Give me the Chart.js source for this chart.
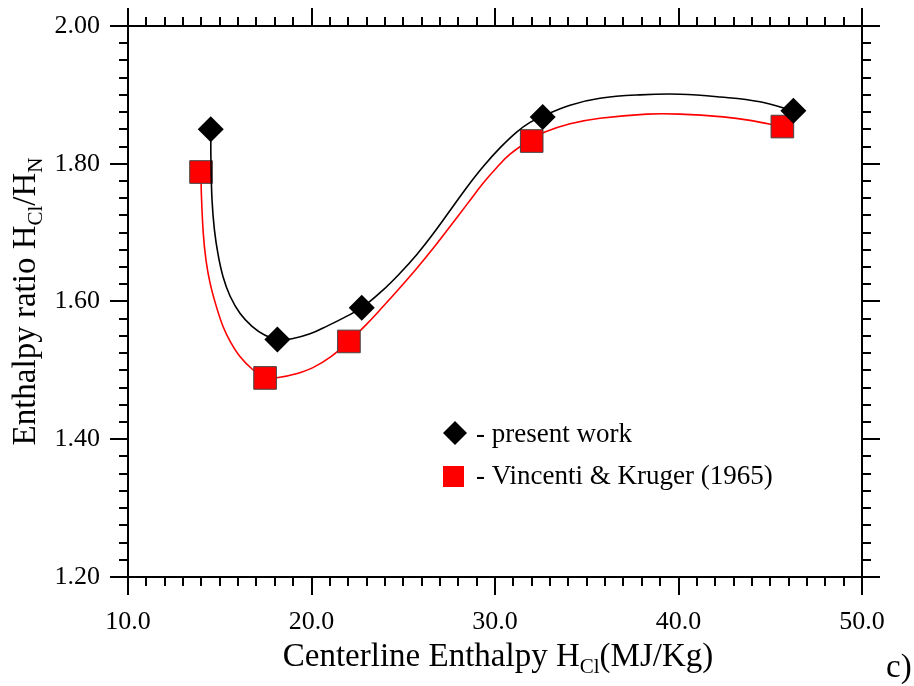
<!DOCTYPE html>
<html>
<head>
<meta charset="utf-8">
<script src="https://cdn.jsdelivr.net/npm/chart.js@4.4.1/dist/chart.umd.min.js"></script>
<style>
    body { margin: 0; background: #fff; }
    #wrap { width: 914px; height: 686px; }
</style>
</head>
<body>
<div id="wrap"><canvas id="enthalpyChart" width="914" height="686"></canvas></div>
<script>
// measured points
var presentX = [14.51, 18.14, 22.74, 32.60, 46.26];
var presentY = [1.850, 1.545, 1.591, 1.868, 1.877];
var vkX = [13.98, 17.47, 22.04, 32.00, 45.66];
var vkY = [1.788, 1.489, 1.542, 1.833, 1.854];

// fitted curves
var presentCurveX = [14.51, 14.52, 14.58, 14.71, 14.91, 15.18, 15.56, 16.10, 16.76, 17.47, 18.14, 18.94,
    19.92, 20.90, 21.80, 22.74, 23.91, 24.82, 25.73, 26.62, 27.55, 28.47, 29.36, 30.27, 31.18, 31.91,
    32.60, 34.09, 35.72, 37.90, 40.08, 42.26, 44.44, 46.26];
var presentCurveY = [1.850, 1.805, 1.747, 1.704, 1.668, 1.636, 1.608, 1.583, 1.564, 1.551, 1.545, 1.546,
    1.553, 1.565, 1.577, 1.591, 1.617, 1.641, 1.668, 1.698, 1.732, 1.766, 1.796, 1.823, 1.846, 1.860,
    1.869, 1.885, 1.895, 1.900, 1.901, 1.897, 1.890, 1.877];
var vkCurveX = [13.98, 14.00, 14.10, 14.25, 14.47, 14.80, 15.19, 15.61, 16.10, 16.76, 17.47, 18.28,
    19.16, 20.08, 21.06, 22.04, 22.97, 23.91, 24.82, 25.73, 26.62, 27.55, 28.47, 29.36, 30.11, 30.82,
    32.00, 32.72, 34.09, 35.72, 38.27, 40.08, 42.44, 43.90, 45.66];
var vkCurveY = [1.788, 1.755, 1.700, 1.660, 1.627, 1.594, 1.563, 1.540, 1.520, 1.502, 1.489, 1.490,
    1.495, 1.504, 1.520, 1.542, 1.566, 1.593, 1.620, 1.648, 1.677, 1.709, 1.741, 1.772, 1.795, 1.814,
    1.836, 1.846, 1.858, 1.866, 1.872, 1.872, 1.868, 1.863, 1.854];

// axes
var xRange = [10, 50];
var yRange = [1.20, 2.00];
var xStep = 10, yStep = 0.2;
var legendLabels = ['- present work', '- Vincenti & Kruger (1965)'];

var FONT = "'Liberation Serif', 'Times New Roman', serif";

function pts(xs, ys) {
    return xs.map(function (x, i) { return {x: x, y: ys[i]}; });
}

// text with subscripts: parts = [[text, isSub], ...]
function drawParts(ctx, parts, size) {
    var subSize = Math.round(size * 0.64);
    var w = 0;
    parts.forEach(function (p) {
        ctx.font = (p[1] ? subSize : size) + 'px ' + FONT;
        w += ctx.measureText(p[0]).width;
    });
    var x = -w / 2;
    parts.forEach(function (p) {
        ctx.font = (p[1] ? subSize : size) + 'px ' + FONT;
        ctx.fillText(p[0], x, p[1] ? 7 : 0);
        x += ctx.measureText(p[0]).width;
    });
}

var framePlugin = {
    id: 'frame',
    afterDraw: function (chart) {
        var ctx = chart.ctx, a = chart.chartArea;
        var xs = chart.scales.x, ys = chart.scales.y;
        ctx.save();
        ctx.strokeStyle = '#000';
        ctx.lineWidth = 2;
        ctx.strokeRect(a.left, a.top, a.right - a.left, a.bottom - a.top);

        ctx.beginPath();
        // x ticks, every 1.0, major every 10
        for (var i = 0; i <= (xRange[1] - xRange[0]); i++) {
            var px = Math.round(xs.getPixelForValue(xRange[0] + i));
            var len = (i % 10 === 0) ? 18 : 9;
            ctx.moveTo(px, a.bottom); ctx.lineTo(px, a.bottom + len);
            ctx.moveTo(px, a.top); ctx.lineTo(px, a.top - len);
        }
        // y ticks, every 0.025, major every 0.2
        for (var j = 0; j <= 32; j++) {
            var py = Math.round(ys.getPixelForValue(yRange[0] + j * 0.025));
            var l2 = (j % 8 === 0) ? 18 : 9;
            ctx.moveTo(a.left, py); ctx.lineTo(a.left - l2, py);
            ctx.moveTo(a.right, py); ctx.lineTo(a.right + l2, py);
        }
        ctx.stroke();

        ctx.fillStyle = '#000';
        ctx.textBaseline = 'alphabetic';
        ctx.textAlign = 'left';

        // x title
        ctx.save();
        ctx.translate((a.left + a.right) / 2 + 3, 666);
        drawParts(ctx, [['Centerline Enthalpy H', false], ['Cl', true], ['(MJ/Kg)', false]], 33);
        ctx.restore();

        // y title
        ctx.save();
        ctx.translate(35, (a.top + a.bottom) / 2);
        ctx.rotate(-Math.PI / 2);
        drawParts(ctx, [['Enthalpy ratio H', false], ['Cl', true], ['/H', false], ['N', true]], 33);
        ctx.restore();

        // panel letter
        ctx.font = '33px ' + FONT;
        ctx.fillText('c)', 886, 677);

        // legend
        ctx.font = '27px ' + FONT;
        ctx.beginPath();
        ctx.moveTo(455, 421); ctx.lineTo(467, 433); ctx.lineTo(455, 445); ctx.lineTo(443, 433);
        ctx.closePath();
        ctx.fill();
        ctx.fillText(legendLabels[0], 476, 442);
        ctx.fillStyle = '#ff0000';
        ctx.fillRect(443, 466, 21, 21);
        ctx.fillStyle = '#000';
        ctx.fillText(legendLabels[1], 476, 484);
        ctx.restore();
    }
};

var ctx = document.getElementById('enthalpyChart').getContext('2d');
new Chart(ctx, {
    type: 'scatter',
    data: {
        datasets: [
            {
                label: 'present work',
                data: pts(presentX, presentY),
                pointStyle: 'rectRot',
                pointRadius: 13,
                backgroundColor: '#000',
                borderColor: '#000',
                borderWidth: 0,
                order: 0
            },
            {
                label: 'present work fit',
                data: pts(presentCurveX, presentCurveY),
                showLine: true,
                pointRadius: 0,
                borderColor: '#000',
                borderWidth: 1.6,
                tension: 0.4,
                order: 1
            },
            {
                label: 'Vincenti & Kruger (1965)',
                data: pts(vkX, vkY),
                pointStyle: 'rect',
                pointRadius: 16,
                backgroundColor: '#ff0000',
                borderColor: '#444',
                borderWidth: 1,
                order: 2
            },
            {
                label: 'Vincenti & Kruger fit',
                data: pts(vkCurveX, vkCurveY),
                showLine: true,
                pointRadius: 0,
                borderColor: '#ff0000',
                borderWidth: 1.6,
                tension: 0.4,
                order: 3
            }
        ]
    },
    options: {
        responsive: false,
        animation: false,
        devicePixelRatio: 1,
        layout: {padding: {top: 26, right: 52, left: 0, bottom: 0}},
        plugins: {
            legend: {display: false},
            tooltip: {enabled: false}
        },
        scales: {
            x: {
                type: 'linear',
                min: xRange[0],
                max: xRange[1],
                grid: {display: false, drawTicks: false},
                border: {display: false},
                ticks: {
                    stepSize: xStep,
                    color: '#000',
                    padding: 30,
                    maxRotation: 0,
                    font: {family: FONT, size: 26},
                    callback: function (v) { return v.toFixed(1); }
                },
                afterFit: function (s) {
                    s.height = 109;
                    s.paddingLeft = 0;
                    s.paddingRight = 0;
                }
            },
            y: {
                type: 'linear',
                min: yRange[0],
                max: yRange[1],
                grid: {display: false, drawTicks: false},
                border: {display: false},
                ticks: {
                    stepSize: yStep,
                    color: '#000',
                    padding: 28,
                    font: {family: FONT, size: 26},
                    callback: function (v) { return v.toFixed(2); }
                },
                afterFit: function (s) {
                    s.width = 128;
                    s.paddingTop = 0;
                    s.paddingBottom = 0;
                }
            }
        }
    },
    plugins: [framePlugin]
});
</script>
</body>
</html>
